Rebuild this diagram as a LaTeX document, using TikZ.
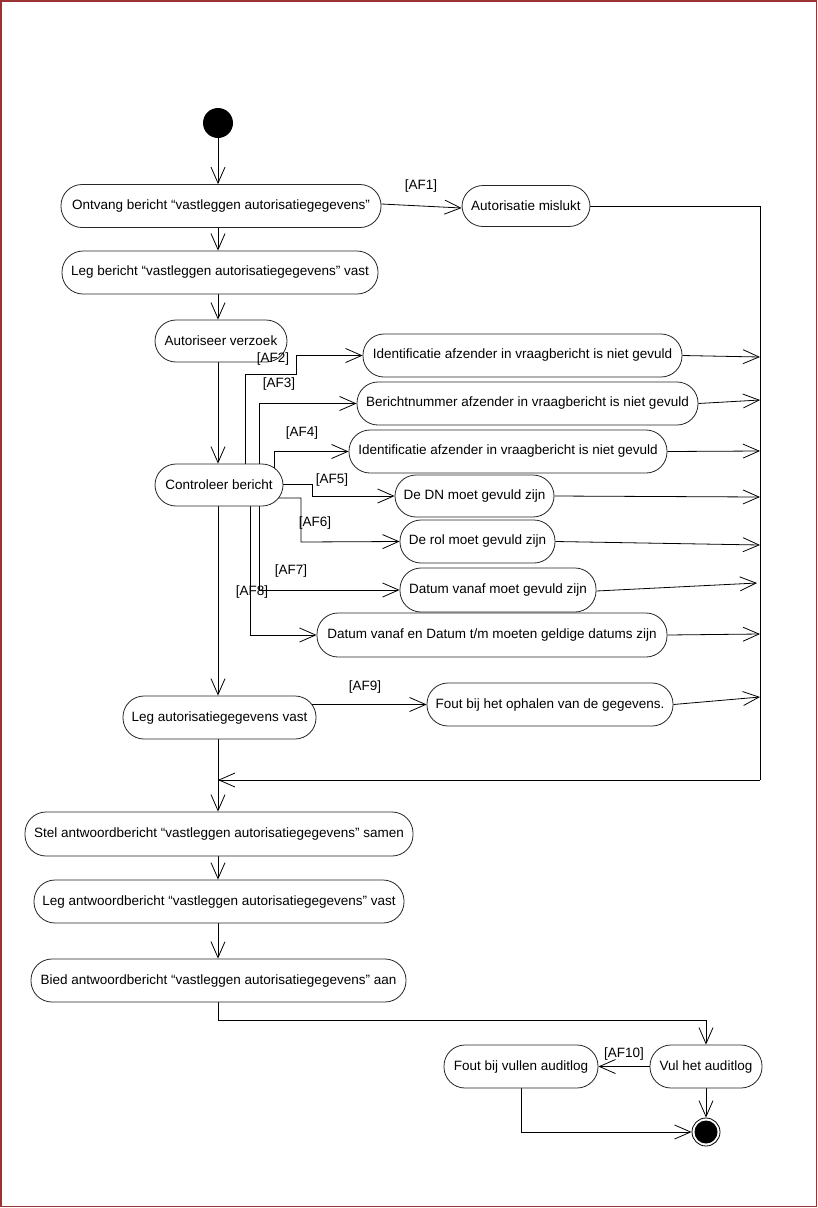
\documentclass[tikz,border=0pt]{standalone}
\usepackage{fontspec}
\setmainfont{Liberation Sans}
\usetikzlibrary{arrows.meta,calc}
\pgfdeclarelayer{bg}
\pgfsetlayers{bg,main}
\begin{document}
\begin{tikzpicture}[x=1pt,y=-1pt,
  act/.style={draw=black!85, line width=0.8pt, fill=white, rounded corners=21pt,
    minimum height=43pt, inner sep=0pt, font=\fontsize{13.5}{15}\selectfont},
  arr/.style={draw=black, line width=0.8pt, -{Straight Barb[length=16pt,width=14pt,line width=0.8pt]}},
  ln/.style={draw=black, line width=0.8pt},
  lbl/.style={inner sep=0pt, font=\fontsize{13.5}{15}\selectfont}]
\useasboundingbox (0,0) rectangle (818,1208);

% nodes
\node[circle, fill=black, minimum size=30pt, inner sep=0pt] (start) at (218,123) {};
\node[act, minimum width=320pt] (ontv) at (221,206) {Ontvang bericht “vastleggen autorisatiegegevens"};
\node[act, minimum width=128pt, minimum height=41pt] (am) at (526,206) {Autorisatie mislukt};
\node[act, minimum width=316pt] (lb) at (220,272.5) {Leg bericht “vastleggen autorisatiegegevens" vast};
\node[act, minimum width=132pt, minimum height=42pt] (av) at (221,341) {Autoriseer verzoek};
\node[act, minimum width=319pt] (id1) at (522.5,355.5) {Identificatie afzender in vraagbericht is niet gevuld};
\node[act, minimum width=341pt] (bn) at (527.5,403.5) {Berichtnummer afzender in vraagbericht is niet gevuld};
\node[act, minimum width=318pt] (id2) at (508,451.5) {Identificatie afzender in vraagbericht is niet gevuld};
\node[act, minimum width=128pt, minimum height=42pt] (ctrl) at (219,485) {Controleer bericht};
\node[act, minimum width=159pt, minimum height=42pt] (dn) at (474.5,496) {De DN moet gevuld zijn};
\node[act, minimum width=155pt] (rol) at (477.5,541.5) {De rol moet gevuld zijn};
\node[act, minimum width=196pt, minimum height=44pt] (dv) at (498,590) {Datum vanaf moet gevuld zijn};
\node[act, minimum width=350pt, minimum height=44pt] (dve) at (492,635) {Datum vanaf en Datum t/m moeten geldige datums zijn};
\node[act, minimum width=193pt] (lav) at (219.5,717.5) {Leg autorisatiegegevens vast};
\node[act, minimum width=246pt] (fo) at (550,704.5) {Fout bij het ophalen van de gegevens.};
\node[act, minimum width=388pt, minimum height=44pt] (stel) at (219,834) {Stel antwoordbericht “vastleggen autorisatiegegevens" samen};
\node[act, minimum width=370pt] (lab) at (219,901.5) {Leg antwoordbericht “vastleggen autorisatiegegevens" vast};
\node[act, minimum width=375pt] (bied) at (218.5,980.5) {Bied antwoordbericht “vastleggen autorisatiegegevens" aan};
\node[act, minimum width=112pt] (vul) at (706,1066.5) {Vul het auditlog};
\node[act, minimum width=154pt] (fv) at (521,1066.5) {Fout bij vullen auditlog};
\node[circle, draw=black, line width=0.8pt, fill=white, minimum size=28pt, inner sep=0pt,
  path picture={\fill[black] (path picture bounding box.center) circle (11.5pt);}] (end) at (706,1132) {};

% labels
\node[lbl] (l1) at (421,186) {[AF1]};
\node[lbl] (l2) at (273,359) {[AF2]};
\node[lbl] (l3) at (279,384) {[AF3]};
\node[lbl] (l4) at (302,433) {[AF4]};
\node[lbl] (l5) at (332,480) {[AF5]};
\node[lbl] (l6) at (315,523) {[AF6]};
\node[lbl] (l7) at (291,571) {[AF7]};
\node[lbl] (l8) at (252,592) {[AF8]};
\node[lbl] (l9) at (365,687) {[AF9]};
\node[lbl] (l10) at (624,1054) {[AF10]};

% border
\draw[draw=red!50!black!80, line width=1.3pt] (1,1) rectangle (816.5,1206.5);

% helper coordinates
\coordinate (r1) at (760,206);
\coordinate (m) at (218,780);
\coordinate (r2) at (760,780);
\coordinate (e1) at (760,357);
\coordinate (e2) at (760,400);
\coordinate (e3) at (760,451);
\coordinate (e4) at (760,497);
\coordinate (e5) at (760,545);
\coordinate (e6) at (757,583);
\coordinate (e7) at (760,634);
\coordinate (e8) at (760,697);
\coordinate (k2) at (296,374);
\coordinate (k5) at (312,484);
\coordinate (k6) at (301,542);

\begin{pgfonlayer}{bg}
\fill[white] (0,0) rectangle (818,1208);
% main spine
\draw[arr] (start) -- (start |- ontv.north);
\draw[arr] (ontv.south -| start) -- (lb.north -| start);
\draw[arr] (lb.south -| start) -- (av.north -| start);
\draw[arr] (av.south -| start) -- (ctrl.north -| start);
\draw[arr] (ctrl.south -| start) -- (lav.north -| start);
\draw[ln] (lav.south -| start) -- (m);
\draw[arr] (m) -- (stel.north -| start);
\draw[arr] (stel.south -| start) -- (lab.north -| start);
\draw[arr] (lab.south -| start) -- (bied.north -| start);
\draw[arr] (bied.south -| start) -- ++(0,18) -| (vul.north);
\draw[arr] (vul.south) -- (end.north);
\draw[arr] (vul.west) -- (fv.east);
\draw[arr] (fv.south) |- (end.west);

% AF1
\draw[arr] ($(ontv.east)+(0,-2)$) -- ($(am.west)+(0,2)$);
\draw[ln] (am.east) -- (r1) -- (r2);
\draw[arr] (r2) -- (m);

% AF2 - AF8
\draw[arr] ($(ctrl.center)+(26,0)$) |- (k2) |- (id1.west);
\draw[arr] ($(ctrl.center)+(40,0)$) |- (bn.west);
\draw[arr] ($(ctrl.center)+(55,0)$) |- (id2.west);
\draw[arr] (ctrl.center |- k5) -- (k5) |- (dn.west);
\draw[arr] ($(ctrl.center)+(0,13)$) -| (k6) -- (rol.west);
\draw[arr] ($(ctrl.center)+(40,0)$) |- (dv.west);
\draw[arr] ($(ctrl.center)+(31,0)$) |- (dve.west);

% AF9
\draw[arr] (lav.center |- fo.west) -- (fo.west);

% exceptions to right line
\draw[arr] (id1.east) -- (e1);
\draw[arr] (bn.east) -- (e2);
\draw[arr] (id2.east) -- (e3);
\draw[arr] (dn.east) -- (e4);
\draw[arr] (rol.east) -- (e5);
\draw[arr] ($(dv.east)+(0,1)$) -- (e6);
\draw[arr] (dve.east) -- (e7);
\draw[arr] (fo.east) -- (e8);
\end{pgfonlayer}
\end{tikzpicture}
\end{document}
